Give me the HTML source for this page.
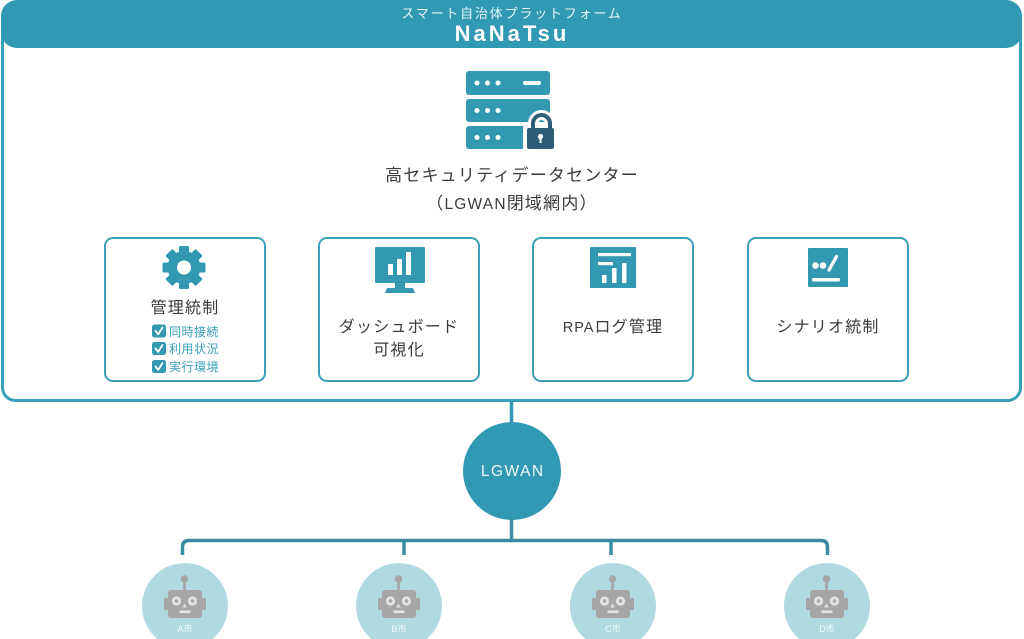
<!DOCTYPE html>
<html><head><meta charset="utf-8">
<style>
html,body{margin:0;padding:0;background:#fff;}
body{width:1024px;height:639px;position:relative;overflow:hidden;font-family:"Liberation Sans","Noto Sans CJK JP",sans-serif;}
.t{position:absolute;text-align:center;white-space:nowrap;line-height:1;}
</style></head><body>
<svg width="1024" height="639" style="position:absolute;left:0;top:0" xmlns="http://www.w3.org/2000/svg">
  <!-- outer box -->
  <rect x="2.5" y="12" width="1018" height="388.5" rx="13" fill="#fff" stroke="#36a0bb" stroke-width="3"/>
  <!-- header -->
  <rect x="1" y="0" width="1021" height="48" rx="16" fill="#3199b4"/>

  <!-- server icon -->
  <rect x="466" y="71" width="84" height="24" rx="3" fill="#3399b3"/>
  <rect x="466" y="99" width="84" height="23" rx="3" fill="#3399b3"/>
  <rect x="466" y="126" width="84" height="23" rx="3" fill="#3399b3"/>
  <g fill="#fff">
    <circle cx="477" cy="83" r="2.5"/><circle cx="487.5" cy="83" r="2.5"/><circle cx="498" cy="83" r="2.5"/>
    <circle cx="477" cy="110.5" r="2.5"/><circle cx="487.5" cy="110.5" r="2.5"/><circle cx="498" cy="110.5" r="2.5"/>
    <circle cx="477" cy="137.5" r="2.5"/><circle cx="487.5" cy="137.5" r="2.5"/><circle cx="498" cy="137.5" r="2.5"/>
    <rect x="523" y="81" width="18" height="4" rx="2"/>
  </g>
  <!-- lock white outline -->
  <path d="M533 128 V123.5 A8.5 8.5 0 0 1 550 123.5 V128" stroke="#fff" stroke-width="10" fill="none"/>
  <rect x="523" y="124" width="35" height="29" rx="4" fill="#fff"/>
  <!-- lock -->
  <path d="M533 129 V123.5 A8.5 8.5 0 0 1 550 123.5 V129" stroke="#2e5d76" stroke-width="4" fill="none"/>
  <rect x="527" y="128" width="27" height="21" rx="2" fill="#2e5d76"/>
  <circle cx="540.5" cy="136.5" r="2.6" fill="#fff"/>
  <rect x="539.5" y="137" width="2" height="6" fill="#fff"/>

  <!-- cards -->
  <g fill="none" stroke="#3aa0bb" stroke-width="2">
    <rect x="105" y="238" width="160" height="143" rx="8"/>
    <rect x="319" y="238" width="160" height="143" rx="8"/>
    <rect x="533" y="238" width="160" height="143" rx="8"/>
    <rect x="748" y="238" width="160" height="143" rx="8"/>
  </g>

  <!-- gear -->
  <g fill="#3399b3" transform="translate(184,267.5)">
    <circle r="16.5"/>
    <rect x="-5" y="-21.5" width="10" height="9" rx="1.5"/>
    <rect x="-5" y="-21.5" width="10" height="9" rx="1.5" transform="rotate(45)"/>
    <rect x="-5" y="-21.5" width="10" height="9" rx="1.5" transform="rotate(90)"/>
    <rect x="-5" y="-21.5" width="10" height="9" rx="1.5" transform="rotate(135)"/>
    <rect x="-5" y="-21.5" width="10" height="9" rx="1.5" transform="rotate(180)"/>
    <rect x="-5" y="-21.5" width="10" height="9" rx="1.5" transform="rotate(225)"/>
    <rect x="-5" y="-21.5" width="10" height="9" rx="1.5" transform="rotate(270)"/>
    <rect x="-5" y="-21.5" width="10" height="9" rx="1.5" transform="rotate(315)"/>
    <circle r="7" fill="#fff"/>
  </g>

  <!-- checkboxes -->
  <g>
    <rect x="152" y="324.5" width="14" height="13" rx="2.5" fill="#3399b3"/>
    <rect x="152" y="342" width="14" height="13" rx="2.5" fill="#3399b3"/>
    <rect x="152" y="360" width="14" height="13" rx="2.5" fill="#3399b3"/>
    <g fill="none" stroke="#fff" stroke-width="1.8" stroke-linecap="round" stroke-linejoin="round">
      <polyline points="155.5,331 158.2,334.3 162.5,327.5"/>
      <polyline points="155.5,348.5 158.2,351.8 162.5,345"/>
      <polyline points="155.5,366.5 158.2,369.8 162.5,363"/>
    </g>
  </g>

  <!-- monitor icon -->
  <rect x="375" y="247" width="50" height="36" rx="1" fill="#3399b3"/>
  <g fill="#fff">
    <rect x="388" y="264" width="5" height="11"/>
    <rect x="397" y="259" width="5" height="16"/>
    <rect x="406" y="252" width="5" height="23"/>
  </g>
  <path d="M395 283 H405 V288 H413 L415 293 H385 L387 288 H395 Z" fill="#3399b3"/>

  <!-- RPA log icon -->
  <rect x="590" y="247" width="46" height="41" rx="1" fill="#3399b3"/>
  <g fill="#fff">
    <rect x="598" y="253" width="33" height="3.2"/>
    <rect x="598" y="262" width="15" height="3.2"/>
    <rect x="602" y="275" width="4.5" height="8"/>
    <rect x="612" y="268" width="4.5" height="15"/>
    <rect x="622" y="263" width="4.5" height="20"/>
  </g>

  <!-- scenario icon -->
  <rect x="808" y="248" width="40" height="39" rx="1" fill="#3399b3"/>
  <g fill="#fff">
    <circle cx="815.5" cy="265.5" r="3.3"/>
    <circle cx="823" cy="265.5" r="3.3"/>
    <rect x="812" y="278" width="28" height="3.5" rx="1.5"/>
  </g>
  <line x1="829" y1="270" x2="836.5" y2="256.5" stroke="#fff" stroke-width="3.3" stroke-linecap="round"/>

  <!-- connectors -->
  <line x1="511.5" y1="401" x2="511.5" y2="424" stroke="#3399b3" stroke-width="3.5"/>
  <circle cx="512" cy="471" r="49" fill="#3199b4"/>
  <line x1="511.5" y1="519" x2="511.5" y2="541" stroke="#3a8ca2" stroke-width="3.5"/>
  <path d="M182.5 555 V547 Q182.5 540.5 189 540.5 H821 Q827.5 540.5 827.5 547 V555" fill="none" stroke="#3a8ca2" stroke-width="3.5"/>
  <line x1="404" y1="540" x2="404" y2="555" stroke="#3a8ca2" stroke-width="3.5"/>
  <line x1="611" y1="540" x2="611" y2="555" stroke="#3a8ca2" stroke-width="3.5"/>

  <!-- robot circles -->
  <g fill="#b1d9e2">
    <circle cx="185" cy="606" r="43"/>
    <circle cx="399" cy="606" r="43"/>
    <circle cx="613" cy="606" r="43"/>
    <circle cx="827" cy="606" r="43"/>
  </g>
  <defs>
    <g id="robot">
      <g fill="#a6a6a6">
        <circle cx="-0.5" cy="579" r="3.7"/>
        <rect x="-1.8" y="580" width="2.6" height="11"/>
        <rect x="-17" y="590" width="34" height="28" rx="3"/>
        <rect x="-21" y="598" width="5" height="12" rx="1"/>
        <rect x="16" y="598" width="5" height="12" rx="1"/>
      </g>
      <g fill="#e4e4e4">
        <circle cx="-8.5" cy="601" r="4.6"/>
        <circle cx="7.5" cy="601" r="4.6"/>
        <polygon points="-0.5,603.5 -2.8,607.5 1.8,607.5"/>
        <rect x="-5.5" y="610.5" width="11" height="2.6"/>
      </g>
      <g fill="#a6a6a6">
        <circle cx="-8.5" cy="601" r="1.8"/>
        <circle cx="7.5" cy="601" r="1.8"/>
      </g>
    </g>
  </defs>
  <use href="#robot" x="185" y="0"/>
  <use href="#robot" x="399" y="0"/>
  <use href="#robot" x="613" y="0"/>
  <use href="#robot" x="827" y="0"/>
</svg>

<!-- header texts -->
<div class="t" style="left:0;width:1024px;top:7px;font-size:13px;letter-spacing:1.8px;color:#e6f3f7;">スマート自治体プラットフォーム</div>
<div class="t" style="left:0;width:1024px;top:23px;font-size:22px;font-weight:bold;letter-spacing:3px;color:#fff;">NaNaTsu</div>

<!-- data center -->
<div class="t" style="left:0;width:1024px;top:167px;font-size:17px;letter-spacing:1.2px;color:#3b3b3b;">高セキュリティデータセンター</div>
<div class="t" style="left:0;width:1024px;top:195px;font-size:17px;letter-spacing:1.2px;color:#3b3b3b;">（<span style="font-size:15.5px">LGWAN</span>閉域網内）</div>

<!-- card texts -->
<div class="t" style="left:104px;width:162px;top:300.5px;font-size:16px;letter-spacing:1.2px;color:#3b3b3b;">管理統制</div>
<div class="t" style="left:169px;top:325.5px;font-size:12px;letter-spacing:0.5px;color:#3a9fba;text-align:left;">同時接続</div>
<div class="t" style="left:169px;top:343px;font-size:12px;letter-spacing:0.5px;color:#3a9fba;text-align:left;">利用状況</div>
<div class="t" style="left:169px;top:361px;font-size:12px;letter-spacing:0.5px;color:#3a9fba;text-align:left;">実行環境</div>

<div class="t" style="left:318px;width:162px;top:319.5px;font-size:16px;letter-spacing:1.2px;color:#3b3b3b;">ダッシュボード</div>
<div class="t" style="left:318px;width:162px;top:342.5px;font-size:16px;letter-spacing:1.2px;color:#3b3b3b;">可視化</div>

<div class="t" style="left:532px;width:162px;top:319.5px;font-size:16px;letter-spacing:1.2px;color:#3b3b3b;"><span style="font-size:14.5px;letter-spacing:1px">RPA</span>ログ管理</div>
<div class="t" style="left:747px;width:162px;top:319.5px;font-size:16px;letter-spacing:1.2px;color:#3b3b3b;">シナリオ統制</div>

<!-- LGWAN -->
<div class="t" style="left:462px;width:100px;top:464px;font-size:15.5px;letter-spacing:1.5px;color:#eef7fa;padding-left:1.5px;box-sizing:border-box;">LGWAN</div>

<!-- city labels -->
<div class="t" style="left:155px;width:60px;top:625px;font-size:9px;color:#f2f9fb;">A市</div>
<div class="t" style="left:369px;width:60px;top:625px;font-size:9px;color:#f2f9fb;">B市</div>
<div class="t" style="left:583px;width:60px;top:625px;font-size:9px;color:#f2f9fb;">C市</div>
<div class="t" style="left:797px;width:60px;top:625px;font-size:9px;color:#f2f9fb;">D市</div>
</body></html>
